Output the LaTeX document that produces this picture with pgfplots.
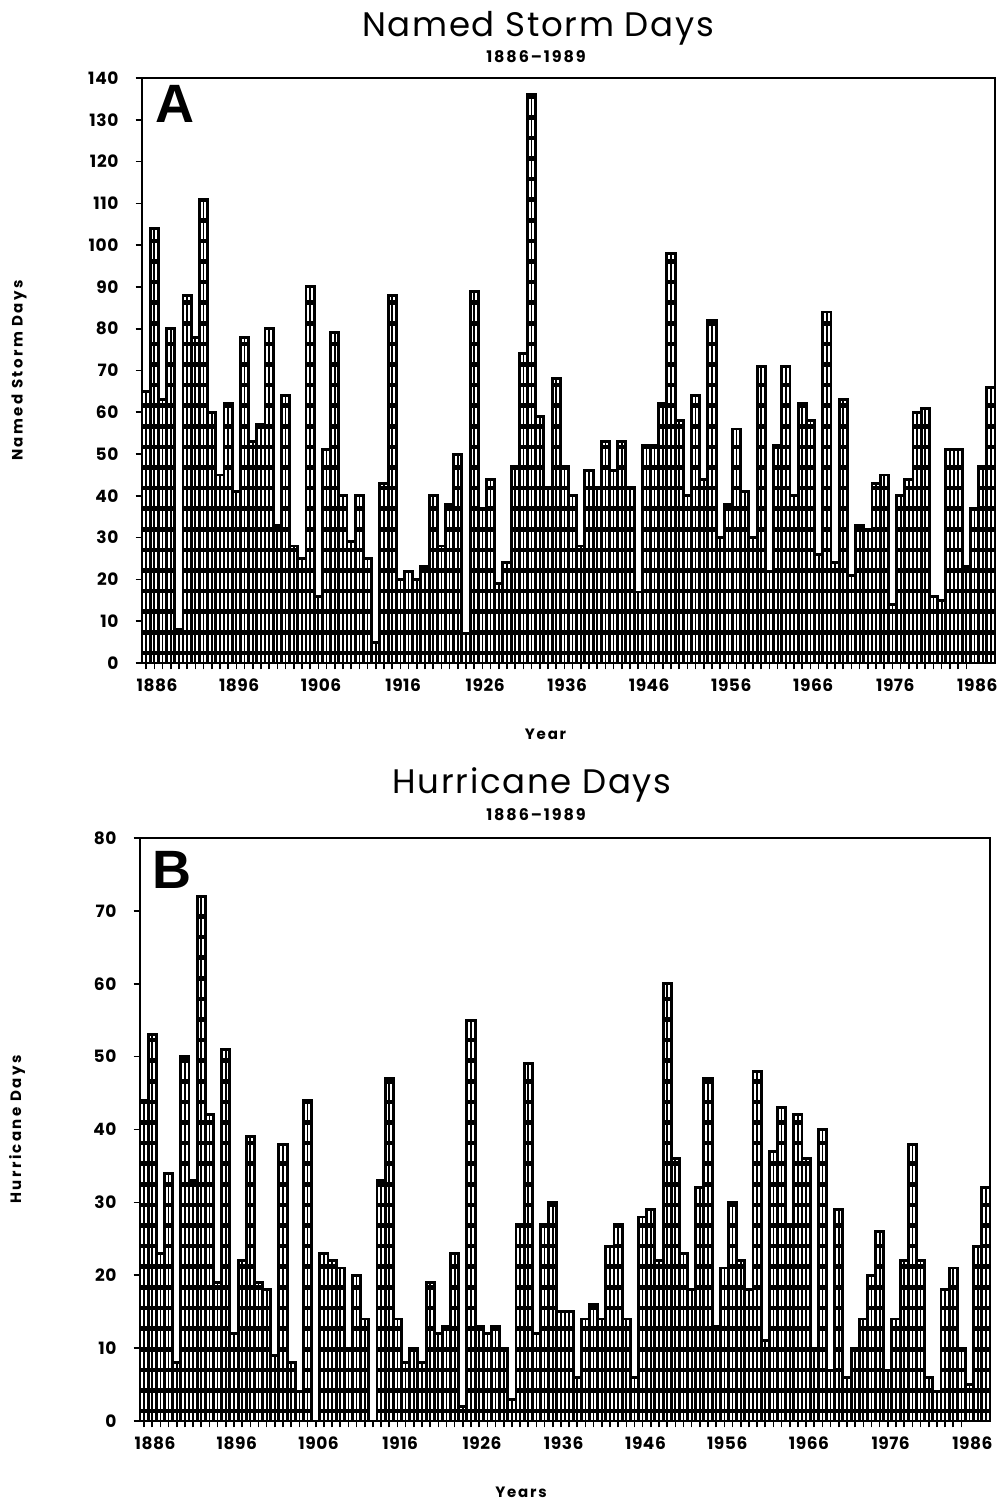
\documentclass[border=0pt]{standalone}
\usepackage{fontspec}
\setmainfont{Poppins}
\newfontfamily\blackfont{Liberation Sans}
\usepackage{pgfplots}
\usepackage{pgfplotstable}
\pgfplotsset{compat=1.18}

\pgfplotstableread{
year a b
1886 65 44
1887 104 53
1888 63 23
1889 80 34
1890 8 8
1891 88 50
1892 78 33
1893 111 72
1894 60 42
1895 45 19
1896 62 51
1897 41 12
1898 78 22
1899 53 39
1900 57 19
1901 80 18
1902 33 9
1903 64 38
1904 28 8
1905 25 4
1906 90 44
1907 16 0
1908 51 23
1909 79 22
1910 40 21
1911 29 10
1912 40 20
1913 25 14
1914 5 0
1915 43 33
1916 88 47
1917 20 14
1918 22 8
1919 20 10
1920 23 8
1921 40 19
1922 28 12
1923 38 13
1924 50 23
1925 7 2
1926 89 55
1927 37 13
1928 44 12
1929 19 13
1930 24 10
1931 47 3
1932 74 27
1933 136 49
1934 59 12
1935 42 27
1936 68 30
1937 47 15
1938 40 15
1939 28 6
1940 46 14
1941 42 16
1942 53 14
1943 46 24
1944 53 27
1945 42 14
1946 17 6
1947 52 28
1948 52 29
1949 62 22
1950 98 60
1951 58 36
1952 40 23
1953 64 18
1954 44 32
1955 82 47
1956 30 13
1957 38 21
1958 56 30
1959 41 22
1960 30 18
1961 71 48
1962 22 11
1963 52 37
1964 71 43
1965 40 27
1966 62 42
1967 58 36
1968 26 10
1969 84 40
1970 24 7
1971 63 29
1972 21 6
1973 33 10
1974 32 14
1975 43 20
1976 45 26
1977 14 7
1978 40 14
1979 44 22
1980 60 38
1981 61 22
1982 16 6
1983 15 4
1984 51 18
1985 51 21
1986 23 10
1987 37 5
1988 47 24
1989 66 32
}\stormdata

\newcommand\barrules{%
  \pgfsetlinewidth{2.3pt}%
  \pgfpointanchor{path picture bounding box}{south west}%
  \pgfgetlastxy{\ppx}{\ppy}%
  \pgfplotsforeachungrouped \k in {0,...,29}{%
    \pgfpathmoveto{\pgfpoint{\ppx-3pt}{\ppy+5pt+\k*10.3pt}}%
    \pgfpathlineto{\pgfpoint{\ppx+440pt}{\ppy+5pt+\k*10.3pt}}%
    \pgfusepath{stroke}%
  }%
}

\pgfplotsset{
  stormaxis/.style={
    scale only axis,
    anchor=south west,
    xmin=1885.5, xmax=1989.5, ymin=0,
    xtick={1886,1896,...,1986},
    minor x tick num=9,
    tick pos=left,
    tick align=outside,
    axis line style={line width=1.2pt},
    major tick length=3.2pt,
    minor tick length=3.2pt,
    every tick/.style={black, line width=0.8pt},
    /pgf/number format/assume math mode=true,
    /pgf/number format/1000 sep={},
    x tick label style={font=\bfseries\fontsize{8.5}{10}\selectfont\addfontfeatures{LetterSpace=3}, yshift=-1pt, xshift=5.5pt},
    y tick label style={font=\bfseries\fontsize{8.5}{10}\selectfont\addfontfeatures{LetterSpace=4}, xshift=-5pt},
    every axis y label/.style={at={(rel axis cs:0,0.5)}, xshift=-61.5pt, rotate=90, anchor=center,
      font=\bfseries\fontsize{7.5}{9}\selectfont\addfontfeatures{LetterSpace=16}},
    every axis x label/.style={at={(rel axis cs:0.5,0)}, anchor=center,
      font=\bfseries\fontsize{7.5}{9}\selectfont\addfontfeatures{LetterSpace=12}},
    clip=false,
  },
  barstyle/.style={ybar, bar width=1, bar shift=0pt, draw=black, line width=1.45pt, fill=white,
    path picture={\barrules}},
  combstyle/.style={ycomb, draw=black, line width=0.85pt, mark=none},
}

\begin{document}
\begin{tikzpicture}
\path[use as bounding box] (0,0) rectangle (498.5pt,750pt);

% Panel A
\begin{axis}[stormaxis,
  at={(71pt,418.5pt)}, width=426.5pt, height=292.5pt,
  ymax=140, ytick={0,10,...,140},
  ylabel={Named Storm Days}, xlabel={Year},
  xlabel style={yshift=-35.5pt, xshift=-11.5pt},
]
\addplot[barstyle] table[x=year,y=a]{\stormdata};
\addplot[combstyle] table[x=year,y=a]{\stormdata};
\end{axis}

% Panel B
\begin{axis}[stormaxis,
  at={(70pt,39.5pt)}, width=425pt, height=291.5pt,
  ymax=80, ytick={0,10,...,80},
  ylabel={Hurricane Days}, xlabel={Years},
  xlabel style={yshift=-35.5pt, xshift=-22pt},
]
\addplot[barstyle] table[x=year,y=b]{\stormdata};
\addplot[combstyle] table[x=year,y=b]{\stormdata};
\end{axis}

% Titles
\node[font=\fontsize{17}{20}\selectfont\addfontfeatures{LetterSpace=5}] at (269pt,736pt) {Named Storm Days};
\node[font=\bfseries\fontsize{8}{9}\selectfont\addfontfeatures{LetterSpace=12}] at (268pt,721.5pt) {1886--1989};
\node[font=\fontsize{17}{20}\selectfont\addfontfeatures{LetterSpace=5}] at (266pt,357.5pt) {Hurricane Days};
\node[font=\bfseries\fontsize{8}{9}\selectfont\addfontfeatures{LetterSpace=12}] at (268pt,342.5pt) {1886--1989};

% Panel letters
\node[font=\blackfont\bfseries\fontsize{27}{30}\selectfont] at (87.5pt,698pt) {A};
\node[font=\blackfont\bfseries\fontsize{27}{30}\selectfont] at (86pt,315pt) {B};
\end{tikzpicture}
\end{document}
